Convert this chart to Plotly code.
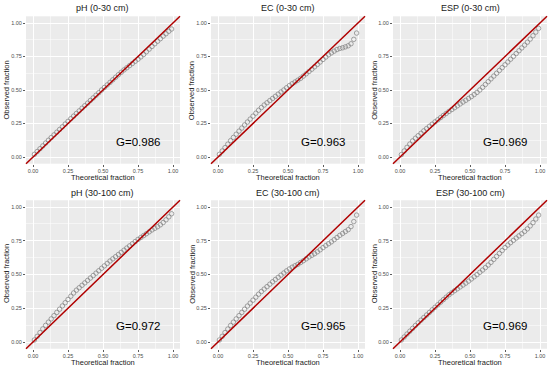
import plotly.graph_objects as go

# ---------------- data ----------------
theoretical = [0.01, 0.03, 0.05, 0.07, 0.09, 0.11, 0.13, 0.15, 0.17, 0.19,
               0.21, 0.23, 0.25, 0.27, 0.29, 0.31, 0.33, 0.35, 0.37, 0.39,
               0.41, 0.43, 0.45, 0.47, 0.49, 0.51, 0.53, 0.55, 0.57, 0.59,
               0.61, 0.63, 0.65, 0.67, 0.69, 0.71, 0.73, 0.75, 0.77, 0.79,
               0.81, 0.83, 0.85, 0.87, 0.89, 0.91, 0.93, 0.95, 0.97, 0.99]

ph_0_30 = [0.020, 0.041, 0.062, 0.083, 0.104, 0.125, 0.145, 0.165, 0.185, 0.205,
           0.225, 0.246, 0.266, 0.286, 0.305, 0.325, 0.344, 0.364, 0.383, 0.402,
           0.422, 0.441, 0.461, 0.480, 0.500, 0.519, 0.538, 0.557, 0.576, 0.595,
           0.614, 0.632, 0.650, 0.666, 0.682, 0.698, 0.714, 0.730, 0.747, 0.765,
           0.785, 0.805, 0.825, 0.845, 0.864, 0.883, 0.902, 0.920, 0.938, 0.955]

ec_0_30 = [0.020, 0.045, 0.070, 0.096, 0.122, 0.146, 0.170, 0.193, 0.216, 0.239,
           0.261, 0.283, 0.305, 0.327, 0.349, 0.369, 0.388, 0.405, 0.421, 0.437,
           0.453, 0.469, 0.485, 0.500, 0.517, 0.533, 0.547, 0.560, 0.573, 0.587,
           0.604, 0.621, 0.638, 0.655, 0.673, 0.691, 0.709, 0.728, 0.746, 0.763,
           0.777, 0.790, 0.802, 0.810, 0.815, 0.822, 0.830, 0.845, 0.878, 0.925]

esp_0_30 = [0.018, 0.045, 0.072, 0.097, 0.120, 0.140, 0.159, 0.177, 0.195, 0.212,
            0.229, 0.245, 0.262, 0.278, 0.294, 0.310, 0.325, 0.340, 0.354, 0.368,
            0.382, 0.396, 0.410, 0.423, 0.437, 0.451, 0.466, 0.482, 0.500, 0.520,
            0.541, 0.562, 0.583, 0.604, 0.625, 0.646, 0.667, 0.688, 0.709, 0.730,
            0.751, 0.772, 0.793, 0.814, 0.835, 0.857, 0.880, 0.905, 0.932, 0.960]

ph_30_100 = [0.015, 0.042, 0.070, 0.097, 0.123, 0.147, 0.171, 0.195, 0.219, 0.243,
             0.267, 0.291, 0.315, 0.339, 0.363, 0.384, 0.402, 0.420, 0.438, 0.456,
             0.474, 0.492, 0.510, 0.528, 0.546, 0.564, 0.582, 0.600, 0.616, 0.632,
             0.648, 0.664, 0.680, 0.696, 0.712, 0.728, 0.744, 0.760, 0.774, 0.788,
             0.802, 0.816, 0.830, 0.842, 0.854, 0.868, 0.885, 0.905, 0.927, 0.950]

ec_30_100 = [0.015, 0.042, 0.070, 0.096, 0.122, 0.147, 0.171, 0.195, 0.219, 0.243,
             0.266, 0.288, 0.310, 0.332, 0.354, 0.374, 0.392, 0.410, 0.428, 0.446,
             0.463, 0.479, 0.495, 0.511, 0.527, 0.541, 0.554, 0.565, 0.575, 0.589,
             0.602, 0.616, 0.630, 0.642, 0.654, 0.668, 0.683, 0.699, 0.714, 0.728,
             0.742, 0.758, 0.774, 0.790, 0.804, 0.818, 0.832, 0.855, 0.892, 0.940]

esp_30_100 = [0.015, 0.037, 0.059, 0.080, 0.101, 0.122, 0.142, 0.162, 0.181, 0.200,
              0.219, 0.238, 0.257, 0.276, 0.295, 0.314, 0.332, 0.350, 0.365, 0.380,
              0.394, 0.408, 0.422, 0.436, 0.451, 0.467, 0.483, 0.499, 0.516, 0.533,
              0.551, 0.570, 0.590, 0.612, 0.634, 0.656, 0.678, 0.699, 0.718, 0.736,
              0.753, 0.770, 0.786, 0.802, 0.819, 0.838, 0.860, 0.884, 0.911, 0.940]

panel_titles = ["pH (0-30 cm)", "EC (0-30 cm)", "ESP (0-30 cm)",
                "pH (30-100 cm)", "EC (30-100 cm)", "ESP (30-100 cm)"]
g_labels = ["G=0.986", "G=0.963", "G=0.969", "G=0.972", "G=0.965", "G=0.969"]
series = [ph_0_30, ec_0_30, esp_0_30, ph_30_100, ec_30_100, esp_30_100]

tick_vals = [0.0, 0.25, 0.5, 0.75, 1.0]
tick_text = ["0.00", "0.25", "0.50", "0.75", "1.00"]
minor_vals = [-0.125, 0.125, 0.375, 0.625, 0.875, 1.125]

# ---------------- layout geometry (paper fractions) ----------------
W, H = 550, 369
x_domains = [[26 / W, 180 / W], [211 / W, 365 / W], [393 / W, 547 / W]]
y_domains = [[1 - 163.7 / H, 1 - 16.3 / H], [1 - 348.75 / H, 1 - 200.25 / H]]

FONT = "Liberation Sans, Arial, sans-serif"

fig = go.Figure()

annotations = []
shapes = []
for i in range(6):
    r, c = divmod(i, 3)
    n = i + 1
    xa = "x" if n == 1 else f"x{n}"
    ya = "y" if n == 1 else f"y{n}"
    fig.add_trace(go.Scatter(
        x=theoretical, y=series[i], mode="markers",
        xaxis=xa, yaxis=ya, showlegend=False,
        marker=dict(symbol="circle-open", size=4.5, color="#808080",
                    line=dict(width=0.7, color="#808080")),
        hoverinfo="skip",
    ))
    axis_common = dict(
        range=[-0.05, 1.05], tickvals=tick_vals, ticktext=tick_text,
        showgrid=True, gridcolor="white", gridwidth=1, zeroline=False,
        ticks="outside", ticklen=2, tickwidth=0.8, tickcolor="#333333",
        tickfont=dict(size=5.5, color="#4D4D4D", family=FONT),
        showline=False, fixedrange=True,
        minor=dict(tickvals=minor_vals, showgrid=True, gridcolor="white",
                   gridwidth=0.5, ticks=""),
    )
    fig.layout[f"xaxis{'' if n == 1 else n}"] = dict(
        axis_common, domain=x_domains[c], anchor=ya)
    fig.layout[f"yaxis{'' if n == 1 else n}"] = dict(
        axis_common, domain=y_domains[r], anchor=xa)

    # y = x reference line across the panel
    shapes.append(dict(type="line", xref=f"{xa} domain", yref=f"{ya} domain",
                       x0=0, y0=0, x1=1, y1=1,
                       line=dict(color="#B00000", width=1.5), layer="above"))

    cx = (x_domains[c][0] + x_domains[c][1]) / 2
    # panel title
    annotations.append(dict(
        text=panel_titles[i], xref="paper", yref="paper",
        x=cx, y=[1 - 8.3 / H, 1 - 193 / H][r],
        xanchor="center", yanchor="middle", showarrow=False,
        font=dict(size=9, color="#1A1A1A", family=FONT)))
    # x axis title
    annotations.append(dict(
        text="Theoretical fraction", xref="paper", yref="paper",
        x=cx, y=[1 - 177.5 / H, 1 - 362.5 / H][r],
        xanchor="center", yanchor="middle", showarrow=False,
        font=dict(size=7.5, color="#1A1A1A", family=FONT)))
    # y axis title
    annotations.append(dict(
        text="Observed fraction", xref="paper", yref="paper",
        x=[6 / W, 191.7 / W, 374.3 / W][c],
        y=[1 - 90.5 / H, 1 - 274 / H][r], textangle=-90,
        xanchor="center", yanchor="middle", showarrow=False,
        font=dict(size=7.5, color="#1A1A1A", family=FONT)))
    # G statistic
    annotations.append(dict(
        text=g_labels[i], xref=xa, yref=ya, x=0.75, y=0.115,
        xanchor="center", yanchor="middle", showarrow=False,
        font=dict(size=11.5, color="black", family=FONT)))

fig.update_layout(
    width=W, height=H, autosize=False,
    margin=dict(l=0, r=0, t=0, b=0),
    paper_bgcolor="white", plot_bgcolor="#EBEBEB",
    annotations=annotations, shapes=shapes,
    font=dict(family=FONT),
)

fig.write_html(
    "out.html",
    config={"displayModeBar": False, "staticPlot": True},
    post_script=("document.body.style.margin='0px';"
                 "document.body.style.padding='0px';"
                 "document.body.style.overflow='hidden';"),
)
